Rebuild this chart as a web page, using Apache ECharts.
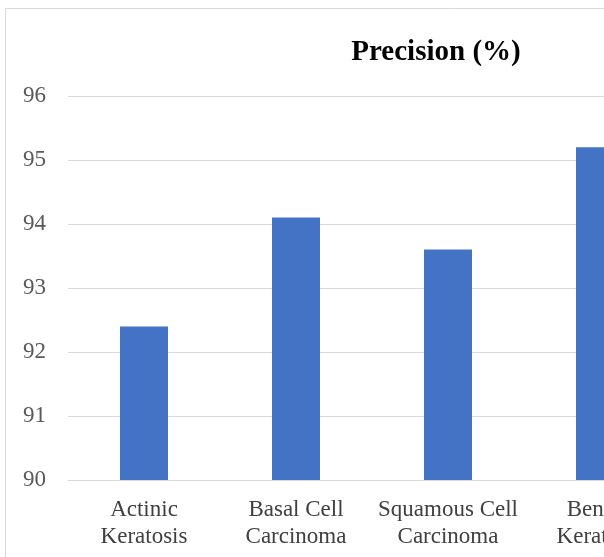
<!DOCTYPE html>
<html><head><meta charset="utf-8">
<script src="https://cdn.jsdelivr.net/npm/echarts@6/dist/echarts.min.js"></script>
<style>html,body{margin:0;padding:0;width:604px;height:557px;overflow:hidden;background:#fff}
#c{position:absolute;left:0;top:0;width:900px;height:557px}</style>
</head><body><div id="c"></div>
<script>
const categories = ['Actinic\nKeratosis', 'Basal Cell\nCarcinoma', 'Squamous Cell\nCarcinoma', 'Benign\nKeratosis'];
const precision = [92.4, 94.1, 93.6, 95.2];
const yTicks = [90, 91, 92, 93, 94, 95, 96];

const chart = echarts.init(document.getElementById('c'), null, {renderer: 'canvas'});
chart.setOption({
  animation: false,
  backgroundColor: '#fff',
  graphic: [{type: 'rect', shape: {x: 5.5, y: 8.5, width: 1000, height: 700}, style: {fill: 'none', stroke: '#d9d9d9', lineWidth: 1}, silent: true}],
  title: {text: 'Precision (%)', left: 431, top: 33, textAlign: 'center',
    textStyle: {fontFamily: 'Liberation Serif', fontWeight: 'bold', fontSize: 29, color: '#000'}},
  grid: {left: 68, top: 96, width: 608, height: 384},
  xAxis: {type: 'category', data: categories,
    axisLine: {lineStyle: {color: '#d9d9d9', width: 1}}, axisTick: {show: false},
    axisLabel: {interval: 0, margin: 16, fontFamily: 'Liberation Serif', fontSize: 23, lineHeight: 27, color: '#404040'}},
  yAxis: {type: 'value', min: yTicks[0], max: yTicks[yTicks.length - 1], interval: 1,
    axisLine: {show: false}, axisTick: {show: false},
    splitLine: {lineStyle: {color: '#d9d9d9', width: 1}},
    axisLabel: {margin: 22, fontFamily: 'Liberation Serif', fontSize: 23, color: '#595959'}},
  series: [{type: 'bar', data: precision, barWidth: 48, itemStyle: {color: '#4472C4'}}]
});
</script></body></html>
